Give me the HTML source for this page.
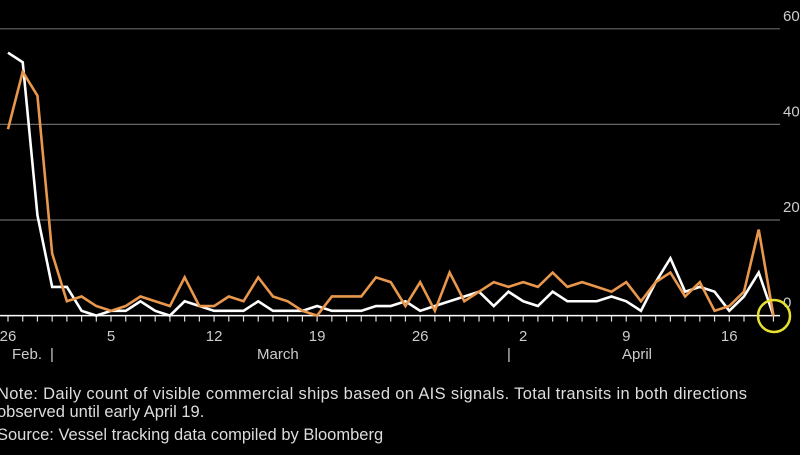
<!DOCTYPE html>
<html><head><meta charset="utf-8"><style>
body{margin:0;background:#000;width:800px;height:450px;overflow:hidden;font-family:"Liberation Sans",sans-serif}
svg text{font-family:"Liberation Sans",sans-serif}
</style></head><body>
<svg id="c" width="800" height="450" viewBox="0 0 800 450" xmlns="http://www.w3.org/2000/svg">
<g id="grid"></g><g id="ticks"></g><g id="series"></g>
<text x="12" y="359" fill="#ccc" font-size="15">Feb.</text>
<text x="50" y="359" fill="#ccc" font-size="15">|</text>
<text x="257" y="359" fill="#ccc" font-size="15">March</text>
<text x="507" y="359" fill="#ccc" font-size="15">|</text>
<text x="622" y="359" fill="#ccc" font-size="15">April</text>
<circle cx="774" cy="316" r="16" fill="none" stroke="#e6e030" stroke-width="2.5"/>
<text x="-3" y="399" fill="#ddd" font-size="16.5" textLength="750">Note: Daily count of visible commercial ships based on AIS signals. Total transits in both directions</text>
<text x="-3" y="417" fill="#ddd" font-size="16.5">observed until early April 19.</text>
<text x="-3" y="440" fill="#ddd" font-size="16.5">Source: Vessel tracking data compiled by Bloomberg</text>
<text x="718" y="462" fill="#fff" font-size="16" font-weight="bold">Bloomberg</text>
</svg>
<script>
const whiteValues=[55,53,21,6,6,1,0,1,1,3,1,0,3,2,1,1,1,3,1,1,1,2,1,1,1,2,2,3,1,2,3,4,5,2,5,3,2,5,3,3,3,4,3,1,7,12,5,6,5,1,4,9,0];
const orangeValues=[39,51,46,13,3,4,2,1,2,4,3,2,8,2,2,4,3,8,4,3,1,0,4,4,4,8,7,2,7,1,9,3,5,7,6,7,6,9,6,7,6,5,7,3,7,9,4,7,1,2,5,18,0];
const yTicks=[0,20,40,60];
const xTickLabels=["26","5","12","19","26","2","9","16"];
const xTickDays=[0,7,14,21,28,35,42,49];
const NS="http://www.w3.org/2000/svg";
const x=i=>8+i*14.72;
const y=v=>315.6-v*4.78;
const grid=document.getElementById('grid'),ticks=document.getElementById('ticks'),series=document.getElementById('series');
function mk(tag,attrs,parent){const e=document.createElementNS(NS,tag);for(const k in attrs)e.setAttribute(k,attrs[k]);parent.appendChild(e);return e;}
yTicks.forEach(v=>{
  if(v>0){const l=mk('line',{x1:0,x2:780,y1:y(v),y2:y(v),stroke:'#666','stroke-width':1.2},grid);
  
  }
  const t=mk('text',{x:783,y:y(v)-8,fill:'#ccc','font-size':15},grid);t.textContent=v;
  
  
});
const base=mk('line',{x1:0,x2:780,y1:y(0),y2:y(0),stroke:'#fff','stroke-width':1.5},ticks);


for(let i=0;i<whiteValues.length;i++){
  const tk=mk('line',{x1:x(i),x2:x(i),y1:y(0),y2:y(0)+6,stroke:'#ddd','stroke-width':1.2},ticks);
  
  
}
xTickLabels.forEach((s,k)=>{
  const t=mk('text',{x:x(xTickDays[k]),y:341,fill:'#ccc','font-size':15,'text-anchor':'middle'},ticks);t.textContent=s;
  
  
});
function line(vals,color,name){
  const p=mk('polyline',{points:vals.map((v,i)=>x(i)+','+y(v)).join(' '),fill:'none',stroke:color,'stroke-width':2.6,'stroke-linejoin':'miter'},series);
  
  
}
line(whiteValues,'#ffffff','white-series-line');
line(orangeValues,'#e8974c','orange-series-line');
</script>
</body></html>
